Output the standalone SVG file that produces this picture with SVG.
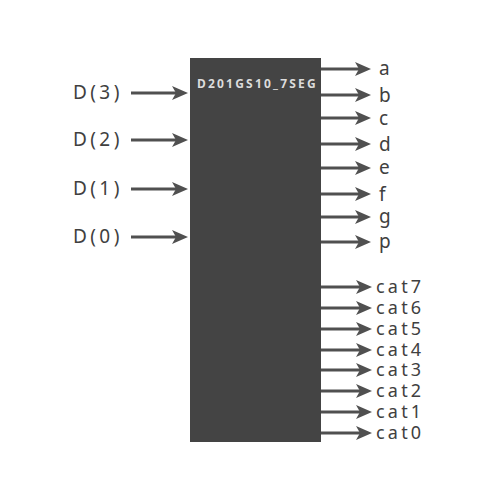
<svg xmlns="http://www.w3.org/2000/svg" width="500" height="500" viewBox="0 0 500 500">
<style>
.w{stroke:#505050;stroke-width:3;fill:none;marker-end:url(#ah)}
.lbl{font-family:"Noto Sans","Open Sans",sans-serif;font-size:19px;fill:#404040;letter-spacing:3.4px}
.one{font-family:"Noto Sans","Open Sans",sans-serif;font-size:19px;fill:#404040}
.cat{font-family:"Noto Sans","Open Sans",sans-serif;font-size:18px;fill:#404040;letter-spacing:3.2px}
.title{font-family:"Noto Sans","Open Sans",sans-serif;font-size:12px;font-weight:bold;fill:#dcdcdc;letter-spacing:2.2px}
</style>
<defs>
<marker id="ah" markerUnits="userSpaceOnUse" markerWidth="16" markerHeight="14" refX="4" refY="7" orient="auto" viewBox="0 0 16 14">
<path d="M0,0 L16,7 L0,14 L4,7 z" fill="#505050"/>
</marker>
</defs>
<rect width="500" height="500" fill="#fff"/>
<g id="block">
<rect x="190" y="58" width="131" height="384" fill="#444"/>
<text class="title" x="197" y="88">D201GS10_7SEG</text>
</g>
<g id="connectors">
<line class="w" x1="131" y1="93" x2="176" y2="93"/>
<line class="w" x1="131" y1="140" x2="176" y2="140"/>
<line class="w" x1="131" y1="189" x2="176" y2="189"/>
<line class="w" x1="131" y1="237" x2="176" y2="237"/>
<line class="w" x1="321" y1="69" x2="359" y2="69"/>
<line class="w" x1="321" y1="95" x2="359" y2="95"/>
<line class="w" x1="321" y1="118" x2="359" y2="118"/>
<line class="w" x1="321" y1="144" x2="359" y2="144"/>
<line class="w" x1="321" y1="168" x2="359" y2="168"/>
<line class="w" x1="321" y1="194" x2="359" y2="194"/>
<line class="w" x1="321" y1="217" x2="359" y2="217"/>
<line class="w" x1="321" y1="242" x2="359" y2="242"/>
<line class="w" x1="321" y1="287" x2="360" y2="287"/>
<line class="w" x1="321" y1="308" x2="360" y2="308"/>
<line class="w" x1="321" y1="329" x2="360" y2="329"/>
<line class="w" x1="321" y1="350" x2="360" y2="350"/>
<line class="w" x1="321" y1="370" x2="360" y2="370"/>
<line class="w" x1="321" y1="391" x2="360" y2="391"/>
<line class="w" x1="321" y1="412" x2="360" y2="412"/>
<line class="w" x1="321" y1="433" x2="360" y2="433"/>
</g>
<g id="inputs">
<text class="lbl" x="73" y="99">D(3)</text>
<text class="lbl" x="73" y="146">D(2)</text>
<text class="lbl" x="73" y="195">D(1)</text>
<text class="lbl" x="73" y="243">D(0)</text>
</g>
<g id="outputs">
<text class="one" x="379" y="75">a</text>
<text class="one" x="379" y="102">b</text>
<text class="one" x="379" y="125">c</text>
<text class="one" x="379" y="151">d</text>
<text class="one" x="379" y="174">e</text>
<text class="one" x="379" y="201">f</text>
<text class="one" x="379" y="223">g</text>
<text class="one" x="379" y="248">p</text>
<text class="cat" x="376" y="293">cat7</text>
<text class="cat" x="376" y="314">cat6</text>
<text class="cat" x="376" y="335">cat5</text>
<text class="cat" x="376" y="356">cat4</text>
<text class="cat" x="376" y="376">cat3</text>
<text class="cat" x="376" y="397">cat2</text>
<text class="cat" x="376" y="418">cat1</text>
<text class="cat" x="376" y="439">cat0</text>
</g>
</svg>
